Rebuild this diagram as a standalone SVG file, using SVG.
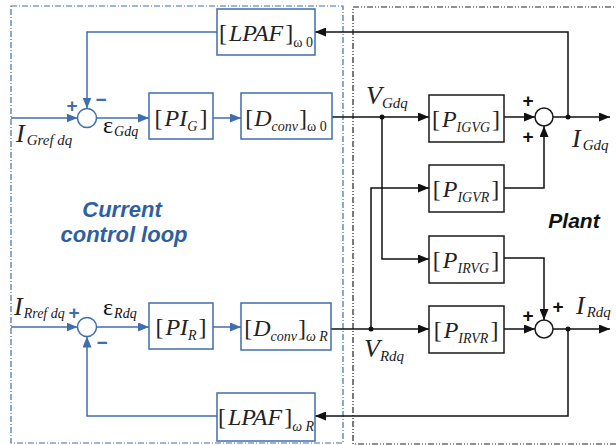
<svg xmlns="http://www.w3.org/2000/svg" width="616" height="445" viewBox="0 0 616 445">
<defs>
<style>
.bb{fill:#fff;stroke:#3F6EAF;stroke-width:1.5}
.kb{fill:#fff;stroke:#1a1a1a;stroke-width:1.5}
.bl{fill:none;stroke:#3F6EAF;stroke-width:1.5}
.kl{fill:none;stroke:#111;stroke-width:1.5}
.m{font-family:"Liberation Serif",serif;font-size:24px;fill:#222}
.i{font-style:italic}
.s{font-size:14px;font-style:italic}
.w{font-size:14px}
.lab{font-family:"Liberation Serif",serif;font-style:italic;font-size:26px;fill:#222}
.pl{font-family:"Liberation Serif",serif;font-size:24px;fill:#111}
.bt{font-family:"Liberation Sans",Arial,sans-serif;font-weight:bold;font-style:italic;font-size:22px;fill:#2F5F9F}
.kt{font-family:"Liberation Sans",Arial,sans-serif;font-weight:bold;font-style:italic;font-size:21px;fill:#111}
.sg{font-family:"Liberation Sans",Arial,sans-serif;font-size:19px;font-weight:bold}
</style>
<marker id="ab" markerWidth="11" markerHeight="9" refX="11" refY="4.5" orient="auto" markerUnits="userSpaceOnUse"><path d="M0,0 L11,4.5 L0,9 Z" fill="#3F6EAF"/></marker>
<marker id="ak" markerWidth="11" markerHeight="9" refX="11" refY="4.5" orient="auto" markerUnits="userSpaceOnUse"><path d="M0,0 L11,4.5 L0,9 Z" fill="#111"/></marker>
</defs>

<g id="regions">
<rect x="11" y="6" width="332" height="437" fill="none" stroke="#3F6EAF" stroke-width="1.2" stroke-dasharray="6 2 1 2"/>
<rect x="353" y="7" width="270" height="437" fill="none" stroke="#222" stroke-width="1.2" stroke-dasharray="6 2 1 2 1 2"/>
<text class="bt" x="122" y="217" text-anchor="middle">Current</text>
<text class="bt" x="124" y="242" text-anchor="middle">control loop</text>
<text class="kt" x="574" y="228" text-anchor="middle">Plant</text>
</g>

<g id="connectors">
<path class="bl" d="M11,118 H77.5" marker-end="url(#ab)"/>
<path class="bl" d="M96.5,118 H149" marker-end="url(#ab)"/>
<path class="bl" d="M213,118 H241" marker-end="url(#ab)"/>
<path class="bl" d="M217,32 H87 V108.5" marker-end="url(#ab)"/>
<path class="bl" d="M11,327 H77.5" marker-end="url(#ab)"/>
<path class="bl" d="M96.5,327 H149" marker-end="url(#ab)"/>
<path class="bl" d="M213,327 H241" marker-end="url(#ab)"/>
<path class="bl" d="M217,416 H87 V336.5" marker-end="url(#ab)"/>
<path class="kl" d="M332,117 H429" marker-end="url(#ak)"/>
<path class="kl" d="M382,117 V259 H429" marker-end="url(#ak)"/>
<path class="kl" d="M504,117 H535" marker-end="url(#ak)"/>
<path class="kl" d="M553,117 H610" marker-end="url(#ak)"/>
<path class="kl" d="M568,117 V32 H315" marker-end="url(#ak)"/>
<path class="kl" d="M504,188 H544 V126" marker-end="url(#ak)"/>
<path class="kl" d="M331,329 H429" marker-end="url(#ak)"/>
<path class="kl" d="M371,329 V188 H429" marker-end="url(#ak)"/>
<path class="kl" d="M504,258 H544 V320" marker-end="url(#ak)"/>
<path class="kl" d="M504,329 H535" marker-end="url(#ak)"/>
<path class="kl" d="M553,329 H610" marker-end="url(#ak)"/>
<path class="kl" d="M568,329 V416 H315" marker-end="url(#ak)"/>
<circle cx="382" cy="117" r="2.5" fill="#111"/>
<circle cx="568" cy="117" r="2.5" fill="#111"/>
<circle cx="371" cy="329" r="2.5" fill="#111"/>
<circle cx="568" cy="329" r="2.5" fill="#111"/>
</g>

<g id="sumG">
<circle class="bb" cx="87" cy="118" r="9.5"/>
<text class="sg" x="72" y="112" text-anchor="middle" fill="#3F6EAF">+</text>
<text class="sg" x="101" y="106" text-anchor="middle" fill="#3F6EAF">−</text>
</g>
<g id="sumR">
<circle class="bb" cx="87" cy="327" r="9.5"/>
<text class="sg" x="74" y="319" text-anchor="middle" fill="#3F6EAF">+</text>
<text class="sg" x="102" y="349" text-anchor="middle" fill="#3F6EAF">−</text>
</g>

<g id="lpafG">
<rect class="bb" x="217" y="9" width="98" height="46"/>
<text class="m" x="266" y="41" text-anchor="middle">[<tspan class="i" dx="2">LPAF</tspan><tspan dx="2">]</tspan><tspan class="w" dy="6">ω 0</tspan></text>
</g>
<g id="piG">
<rect class="bb" x="149" y="93" width="64" height="46"/>
<text class="m" x="181" y="126" text-anchor="middle">[<tspan class="i" dx="2">PI</tspan><tspan class="s" dy="5" font-size="15">G</tspan><tspan dy="-5" dx="2">]</tspan></text>
</g>
<g id="dconvG">
<rect class="bb" x="241" y="93" width="91" height="46"/>
<text class="m" x="286" y="126" text-anchor="middle">[<tspan class="i" dx="1">D</tspan><tspan class="s" dy="5" font-size="15">conv</tspan><tspan dy="-5" dx="1">]</tspan><tspan class="w" dy="5">ω 0</tspan></text>
</g>
<g id="piR">
<rect class="bb" x="149" y="303" width="64" height="46"/>
<text class="m" x="181" y="335" text-anchor="middle">[<tspan class="i" dx="2">PI</tspan><tspan class="s" dy="5" font-size="15">R</tspan><tspan dy="-5" dx="2">]</tspan></text>
</g>
<g id="dconvR">
<rect class="bb" x="241" y="303" width="90" height="47"/>
<text class="m" x="286" y="336" text-anchor="middle">[<tspan class="i" dx="1">D</tspan><tspan class="s" dy="5" font-size="15">conv</tspan><tspan dy="-5" dx="1">]</tspan><tspan class="w s" dy="5">ω R</tspan></text>
</g>
<g id="lpafR">
<rect class="bb" x="217" y="393" width="98" height="48"/>
<text class="m" x="266" y="425" text-anchor="middle">[<tspan class="i" dx="2">LPAF</tspan><tspan dx="2">]</tspan><tspan class="w s" dy="6">ω R</tspan></text>
</g>

<g id="pIGVG">
<rect class="kb" x="429" y="95" width="75" height="47"/>
<text class="m" x="466" y="127" text-anchor="middle">[<tspan class="i" dx="2">P</tspan><tspan class="s" dy="5">IGVG</tspan><tspan dy="-5" dx="2">]</tspan></text>
</g>
<g id="pIGVR">
<rect class="kb" x="429" y="165" width="75" height="47"/>
<text class="m" x="466" y="197" text-anchor="middle">[<tspan class="i" dx="2">P</tspan><tspan class="s" dy="5">IGVR</tspan><tspan dy="-5" dx="2">]</tspan></text>
</g>
<g id="pIRVG">
<rect class="kb" x="429" y="236" width="75" height="47"/>
<text class="m" x="466" y="268" text-anchor="middle">[<tspan class="i" dx="2">P</tspan><tspan class="s" dy="5">IRVG</tspan><tspan dy="-5" dx="2">]</tspan></text>
</g>
<g id="pIRVR">
<rect class="kb" x="429" y="306" width="75" height="47"/>
<text class="m" x="466" y="338" text-anchor="middle">[<tspan class="i" dx="2">P</tspan><tspan class="s" dy="5">IRVR</tspan><tspan dy="-5" dx="2">]</tspan></text>
</g>

<g id="sumPG">
<circle class="kb" cx="544" cy="117" r="9"/>
<text class="sg" x="528" y="107" text-anchor="middle" fill="#111">+</text>
<text class="sg" x="528" y="143" text-anchor="middle" fill="#111">+</text>
</g>
<g id="sumPR">
<circle class="kb" cx="544" cy="329" r="9"/>
<text class="sg" x="528" y="322" text-anchor="middle" fill="#111">+</text>
<text class="sg" x="558" y="313" text-anchor="middle" fill="#111">+</text>
</g>

<g id="labels">
<text class="lab" x="16" y="142">I<tspan font-size="15" dx="2" dy="3">Gref dq</tspan></text>
<text class="pl" x="103" y="133">ε<tspan class="s" font-size="15" dx="1" dy="3">Gdq</tspan></text>
<text class="lab" x="14" y="315">I<tspan font-size="14" dx="1" dy="3">Rref dq</tspan></text>
<text class="pl" x="103" y="315">ε<tspan class="s" font-size="15" dx="1" dy="3">Rdq</tspan></text>
<text class="lab" x="366" y="104">V<tspan font-size="15" dx="0" dy="4">Gdq</tspan></text>
<text class="lab" x="572" y="147">I<tspan font-size="15" dx="2" dy="3">Gdq</tspan></text>
<text class="lab" x="364" y="357">V<tspan font-size="15" dx="0" dy="4">Rdq</tspan></text>
<text class="lab" x="576" y="314">I<tspan font-size="15" dx="2" dy="3">Rdq</tspan></text>
</g>
</svg>
